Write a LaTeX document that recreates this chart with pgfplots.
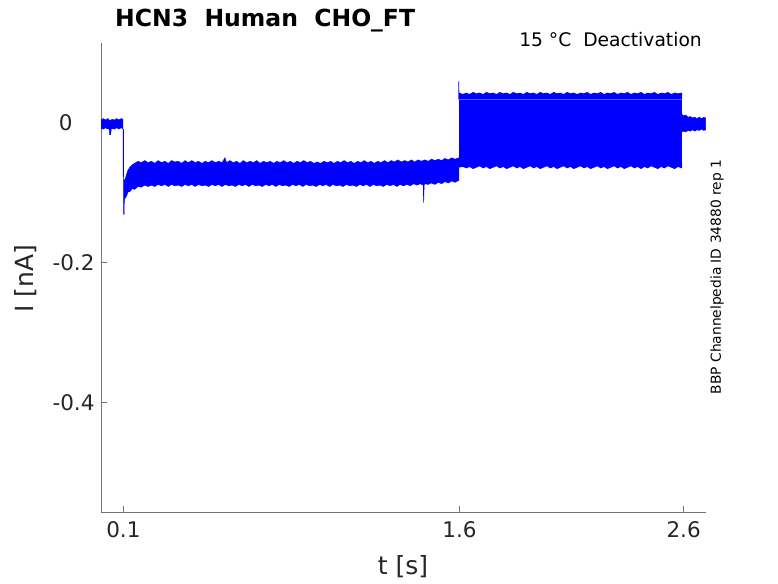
\documentclass[border=0pt]{standalone}
\usepackage{fontspec}
\setmainfont{DejaVu Sans}
\usepackage{pgfplots}
\pgfplotsset{compat=1.18}
\definecolor{axgray}{rgb}{0.15,0.15,0.15}
\definecolor{mblue}{rgb}{0,0,1}
\begin{document}
\begin{tikzpicture}[x=1pt,y=1pt]
\useasboundingbox (0,0) rectangle (778,583);
\begin{axis}[
  at={(101pt,71pt)}, anchor=south west,
  scale only axis, width=605pt, height=469pt,
  xmin=0, xmax=2.7, ymin=-0.556, ymax=0.114,
  axis x line*=bottom, axis y line*=left,
  axis line style={draw=black!55, line width=0.8pt, -},
  xtick={0.1,1.6,2.6}, xticklabels={0.1,1.6,2.6},
  ytick={-0.4,-0.2,0}, yticklabels={-0.4,-0.2,{0\rule{22pt}{0pt}}},
  tick align=inside, major tick length=6pt,
  tick style={draw=black!55, line width=0.8pt},
  tick label style={font=\fontsize{21.5}{26}\selectfont, text=axgray},
  xticklabel style={yshift=-6pt},
  yticklabel style={xshift=-3pt},
]
% baseline + conditioning step (all sweeps overlap)
\addplot[fill=mblue, draw=mblue, line width=0.5pt] coordinates {
(0,0.004)(0.01,0.006)(0.02,0.004)(0.03,0.006)(0.04,0.003)(0.05,0.005)(0.06,0.004)(0.07,0.006)(0.08,0.004)(0.09,0.006)(0.098,0.005)
(0.099,-0.075)(0.105,-0.085)(0.11,-0.078)(0.12,-0.068)(0.13,-0.063)(0.14,-0.060)
(0.15,-0.058)(0.165,-0.055)(0.18,-0.057)(0.195,-0.054)(0.21,-0.057)(0.225,-0.055)(0.24,-0.058)
(0.255,-0.054)(0.27,-0.057)(0.285,-0.055)(0.30,-0.058)(0.315,-0.054)(0.33,-0.056)(0.345,-0.055)
(0.36,-0.058)(0.375,-0.054)(0.39,-0.057)(0.405,-0.054)(0.42,-0.057)(0.435,-0.055)(0.45,-0.058)
(0.465,-0.055)(0.48,-0.057)(0.495,-0.054)(0.51,-0.057)(0.525,-0.055)(0.54,-0.057)(0.553,-0.050)
(0.56,-0.057)(0.575,-0.054)(0.59,-0.057)(0.605,-0.055)(0.62,-0.058)(0.635,-0.054)(0.65,-0.057)
(0.665,-0.055)(0.68,-0.057)(0.695,-0.054)(0.71,-0.058)(0.725,-0.055)(0.74,-0.057)(0.755,-0.055)
(0.77,-0.058)(0.785,-0.055)(0.80,-0.057)(0.815,-0.054)(0.83,-0.057)(0.845,-0.055)(0.86,-0.058)
(0.875,-0.055)(0.89,-0.057)(0.905,-0.054)(0.92,-0.057)(0.935,-0.055)(0.95,-0.058)(0.965,-0.056)
(0.98,-0.058)(0.995,-0.055)(1.01,-0.057)(1.025,-0.055)(1.04,-0.058)(1.055,-0.055)(1.07,-0.057)
(1.085,-0.054)(1.10,-0.057)(1.115,-0.055)(1.13,-0.058)(1.145,-0.055)(1.16,-0.057)(1.175,-0.054)
(1.19,-0.057)(1.205,-0.055)(1.22,-0.058)(1.235,-0.055)(1.25,-0.057)(1.265,-0.054)(1.28,-0.057)
(1.295,-0.054)(1.31,-0.056)(1.325,-0.053)(1.34,-0.056)(1.355,-0.054)(1.37,-0.056)(1.385,-0.053)
(1.40,-0.056)(1.415,-0.053)(1.43,-0.055)(1.445,-0.053)(1.46,-0.055)(1.475,-0.052)(1.49,-0.054)
(1.505,-0.052)(1.52,-0.054)(1.535,-0.051)(1.55,-0.053)(1.565,-0.050)(1.58,-0.052)(1.597,-0.050)
(1.597,-0.082)(1.58,-0.085)(1.565,-0.083)(1.55,-0.086)(1.535,-0.084)(1.52,-0.087)(1.505,-0.085)
(1.49,-0.088)(1.475,-0.086)(1.46,-0.088)(1.445,-0.087)(1.442,-0.089)(1.44,-0.114)(1.438,-0.089)
(1.425,-0.087)(1.41,-0.089)(1.395,-0.087)(1.38,-0.090)(1.365,-0.088)(1.35,-0.090)(1.335,-0.088)
(1.32,-0.091)(1.305,-0.088)(1.29,-0.090)(1.275,-0.088)(1.26,-0.091)(1.245,-0.089)(1.23,-0.090)
(1.215,-0.088)(1.20,-0.091)(1.185,-0.088)(1.17,-0.090)(1.155,-0.088)(1.14,-0.091)(1.125,-0.089)
(1.11,-0.090)(1.095,-0.088)(1.08,-0.091)(1.065,-0.089)(1.05,-0.090)(1.035,-0.088)(1.02,-0.091)
(1.005,-0.088)(0.99,-0.090)(0.975,-0.088)(0.96,-0.091)(0.945,-0.089)(0.93,-0.090)(0.915,-0.088)
(0.90,-0.091)(0.885,-0.088)(0.87,-0.090)(0.855,-0.088)(0.84,-0.091)(0.825,-0.089)(0.81,-0.090)
(0.795,-0.088)(0.78,-0.091)(0.765,-0.088)(0.75,-0.090)(0.735,-0.088)(0.72,-0.091)(0.705,-0.089)
(0.69,-0.090)(0.675,-0.088)(0.66,-0.091)(0.645,-0.088)(0.63,-0.090)(0.615,-0.088)(0.60,-0.091)
(0.585,-0.089)(0.57,-0.090)(0.555,-0.088)(0.54,-0.091)(0.525,-0.088)(0.51,-0.090)(0.495,-0.088)
(0.48,-0.091)(0.465,-0.089)(0.45,-0.090)(0.435,-0.088)(0.42,-0.091)(0.405,-0.088)(0.39,-0.090)
(0.375,-0.088)(0.36,-0.091)(0.345,-0.089)(0.33,-0.090)(0.315,-0.088)(0.30,-0.091)(0.285,-0.088)
(0.27,-0.090)(0.255,-0.088)(0.24,-0.091)(0.225,-0.089)(0.21,-0.091)(0.195,-0.089)(0.18,-0.092)
(0.165,-0.091)(0.15,-0.095)(0.14,-0.094)(0.13,-0.098)(0.12,-0.099)(0.115,-0.104)(0.107,-0.108)
(0.104,-0.110)(0.103,-0.131)(0.1005,-0.131)
(0.1005,-0.010)(0.099,-0.009)(0.09,-0.007)(0.08,-0.009)(0.07,-0.007)(0.06,-0.009)(0.046,-0.008)
(0.043,-0.017)(0.039,-0.017)(0.036,-0.008)(0.03,-0.009)(0.02,-0.007)(0.01,-0.009)(0,-0.008)
};
% test pulses, one band per sweep
\addplot[fill=mblue, draw=none] coordinates {
(1.595,0.0332)(1.595,0.059)(1.598,0.059)(1.599,0.043)(1.615,0.041)(1.63,0.043)(1.645,0.041)
(1.66,0.044)(1.675,0.042)(1.69,0.043)(1.705,0.041)(1.72,0.044)(1.735,0.042)(1.75,0.043)
(1.765,0.041)(1.78,0.044)(1.795,0.042)(1.81,0.043)(1.825,0.041)(1.84,0.044)(1.855,0.042)
(1.87,0.043)(1.885,0.041)(1.90,0.044)(1.915,0.042)(1.93,0.043)(1.945,0.041)(1.96,0.044)
(1.975,0.042)(1.99,0.043)(2.005,0.041)(2.02,0.044)(2.035,0.042)(2.05,0.043)(2.065,0.041)
(2.08,0.044)(2.095,0.042)(2.11,0.043)(2.125,0.041)(2.14,0.043)(2.155,0.042)(2.17,0.044)
(2.185,0.041)(2.20,0.043)(2.215,0.042)(2.23,0.044)(2.245,0.041)(2.26,0.043)(2.275,0.042)
(2.29,0.044)(2.305,0.041)(2.32,0.043)(2.335,0.042)(2.35,0.044)(2.365,0.041)(2.38,0.043)
(2.395,0.042)(2.41,0.044)(2.425,0.041)(2.44,0.043)(2.455,0.042)(2.47,0.044)(2.485,0.041)
(2.50,0.043)(2.515,0.042)(2.53,0.044)(2.545,0.041)(2.56,0.043)(2.575,0.042)(2.593,0.043)
(2.593,0.0332)};
\addplot[fill=mblue, draw=none] coordinates {(1.596,0.0216)(1.596,0.0326)(2.593,0.0326)(2.593,0.0216)};
\addplot[fill=mblue, draw=none] coordinates {(1.596,0.0131)(1.596,0.0210)(2.593,0.0210)(2.593,0.0131)};
\addplot[fill=mblue, draw=none] coordinates {(1.596,0.0016)(1.596,0.0125)(2.593,0.0125)(2.593,0.0016)};
\addplot[fill=mblue, draw=none] coordinates {(1.596,-0.0069)(1.596,0.0010)(2.593,0.0010)(2.593,-0.0069)};
\addplot[fill=mblue, draw=none] coordinates {(1.596,-0.0184)(1.596,-0.0075)(2.593,-0.0075)(2.593,-0.0184)};
\addplot[fill=mblue, draw=none] coordinates {(1.596,-0.0312)(1.596,-0.0190)(2.593,-0.0190)(2.593,-0.0312)};
\addplot[fill=mblue, draw=none] coordinates {(1.596,-0.0469)(1.596,-0.0318)(2.593,-0.0318)(2.593,-0.0469)};
\addplot[fill=mblue, draw=none] coordinates {(1.596,-0.0569)(1.596,-0.0475)(2.593,-0.0475)(2.593,-0.0569)};
\addplot[fill=mblue, draw=none] coordinates {
(1.596,-0.0575)(2.593,-0.0575)(2.593,-0.065)(2.575,-0.063)(2.56,-0.066)(2.545,-0.064)(2.53,-0.062)
(2.515,-0.065)(2.50,-0.063)(2.485,-0.066)(2.47,-0.064)(2.455,-0.062)(2.44,-0.065)(2.425,-0.063)
(2.41,-0.066)(2.395,-0.063)(2.38,-0.065)(2.365,-0.062)(2.35,-0.064)(2.335,-0.066)(2.32,-0.063)
(2.305,-0.065)(2.29,-0.062)(2.275,-0.064)(2.26,-0.066)(2.245,-0.063)(2.23,-0.065)(2.215,-0.062)
(2.20,-0.064)(2.185,-0.066)(2.17,-0.063)(2.155,-0.065)(2.14,-0.062)(2.125,-0.064)(2.11,-0.066)
(2.095,-0.063)(2.08,-0.065)(2.065,-0.062)(2.05,-0.064)(2.035,-0.066)(2.02,-0.063)(2.005,-0.065)
(1.99,-0.062)(1.975,-0.064)(1.96,-0.066)(1.945,-0.063)(1.93,-0.065)(1.915,-0.062)(1.90,-0.064)
(1.885,-0.066)(1.87,-0.063)(1.855,-0.065)(1.84,-0.062)(1.825,-0.064)(1.81,-0.066)(1.795,-0.063)
(1.78,-0.065)(1.765,-0.062)(1.75,-0.064)(1.735,-0.066)(1.72,-0.063)(1.705,-0.065)(1.69,-0.062)
(1.675,-0.064)(1.66,-0.066)(1.645,-0.063)(1.63,-0.065)(1.615,-0.063)(1.596,-0.064)};
% tail after the test pulse
\addplot[fill=mblue, draw=mblue, line width=0.4pt] coordinates {
(2.592,0.012)(2.60,0.010)(2.61,0.011)(2.62,0.008)(2.63,0.009)(2.64,0.007)(2.65,0.008)(2.66,0.006)
(2.67,0.008)(2.68,0.006)(2.69,0.008)(2.698,0.007)
(2.698,-0.010)(2.69,-0.011)(2.68,-0.009)(2.67,-0.011)(2.66,-0.010)(2.65,-0.012)(2.64,-0.010)
(2.63,-0.012)(2.62,-0.011)(2.61,-0.013)(2.60,-0.012)(2.592,-0.013)};
\end{axis}
\node[anchor=base west, inner sep=0, text=black] at (115,556)
  {\fontsize{23.5}{28}\selectfont\bfseries HCN3\ \ Human\ \ CHO\_FT};
\node[anchor=base east, inner sep=0, text=black] at (702,536)
  {\fontsize{18.7}{22}\selectfont 15 °C\ \ Deactivation};
\node[rotate=90, inner sep=0, text=black] at (717,306)
  {\fontsize{13.8}{16}\selectfont BBP Channelpedia ID 34880 rep 1};
\node[rotate=90, inner sep=0, text=axgray] at (26,304)
  {\fontsize{25}{30}\selectfont I [nA]};
\node[inner sep=0, text=axgray] at (403,16)
  {\fontsize{25}{30}\selectfont t [s]};
\end{tikzpicture}
\end{document}
